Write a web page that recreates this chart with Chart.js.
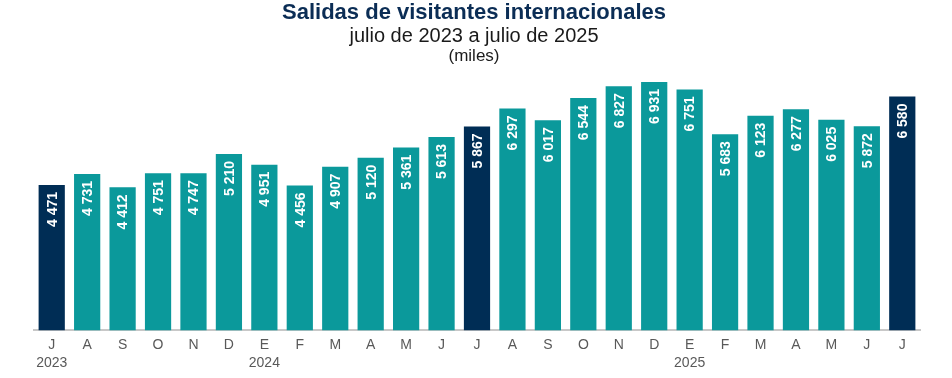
<!DOCTYPE html>
<html>
<head>
<meta charset="utf-8">
<script src="https://cdn.jsdelivr.net/npm/chart.js@4/dist/chart.umd.min.js"></script>
<style>
  html, body { margin: 0; padding: 0; background: #ffffff; }
  #wrap { width: 952px; height: 378px; position: relative; }
</style>
</head>
<body>
<div id="wrap"><canvas id="c" width="952" height="378"></canvas></div>
<script>
const months = ['J','A','S','O','N','D','E','F','M','A','M','J','J','A','S','O','N','D','E','F','M','A','M','J','J'];
const years = ['2023','','','','','','2024','','','','','','','','','','','','2025','','','','','',''];
const visitors = [4471,4731,4412,4751,4747,5210,4951,4456,4907,5120,5361,5613,5867,6297,6017,6544,6827,6931,6751,5683,6123,6277,6025,5872,6580];
const highlight = [1,0,0,0,0,0,0,0,0,0,0,0,1,0,0,0,0,0,0,0,0,0,0,0,1];
const titleLines = ['Salidas de visitantes internacionales', 'julio de 2023 a julio de 2025', '(miles)'];

const TEAL = '#0B999B';
const NAVY = '#002D55';
const FONT = '"Liberation Sans", Arial, sans-serif';

const labels = months.map((m, i) => years[i] ? [m, years[i]] : m);

function fmt(v) {
  return String(v).replace(/\B(?=(\d{3})+(?!\d))/g, '\u00A0');
}

const headerText = {
  id: 'headerText',
  afterDraw(chart) {
    const ctx = chart.ctx;
    const cx = 474;
    ctx.save();
    ctx.textAlign = 'center';
    ctx.textBaseline = 'middle';
    ctx.fillStyle = '#0B2D55';
    ctx.font = 'bold 22px ' + FONT;
    ctx.fillText(titleLines[0], cx, 13);
    ctx.fillStyle = '#1a1a1a';
    ctx.font = '20px ' + FONT;
    ctx.fillText(titleLines[1], cx, 36);
    ctx.font = '17px ' + FONT;
    ctx.fillText(titleLines[2], cx, 56);
    ctx.restore();
  }
};

const barLabels = {
  id: 'barLabels',
  afterDatasetsDraw(chart) {
    const ctx = chart.ctx;
    const meta = chart.getDatasetMeta(0);
    ctx.save();
    ctx.font = 'bold 14px ' + FONT;
    ctx.fillStyle = '#ffffff';
    ctx.textAlign = 'right';
    ctx.textBaseline = 'middle';
    meta.data.forEach((bar, i) => {
      ctx.save();
      ctx.translate(bar.x + 1, bar.y + 7);
      ctx.rotate(-Math.PI / 2);
      ctx.fillText(fmt(visitors[i]), 0, 0);
      ctx.restore();
    });
    ctx.restore();
  }
};

new Chart(document.getElementById('c'), {
  type: 'bar',
  data: {
    labels: labels,
    datasets: [{
      data: visitors,
      backgroundColor: highlight.map(h => h ? NAVY : TEAL),
      borderWidth: 0,
      barPercentage: 0.74,
      categoryPercentage: 1.0
    }]
  },
  options: {
    responsive: false,
    animation: false,
    layout: { padding: { left: 34, right: 32, top: 79, bottom: 0 } },
    plugins: {
      legend: { display: false },
      tooltip: { enabled: false },
      title: { display: false },
      subtitle: { display: false }
    },
    scales: {
      x: {
        grid: { display: false, drawTicks: false, tickLength: 0 },
        border: { display: true, color: '#c8c8c8', width: 2 },
        ticks: {
          color: '#595959',
          font: { family: FONT, size: 14, lineHeight: 1.35 },
          padding: 5,
          maxRotation: 0,
          autoSkip: false
        }
      },
      y: {
        display: false,
        min: 1000,
        max: 7000
      }
    }
  },
  plugins: [barLabels, headerText]
});
</script>
</body>
</html>
